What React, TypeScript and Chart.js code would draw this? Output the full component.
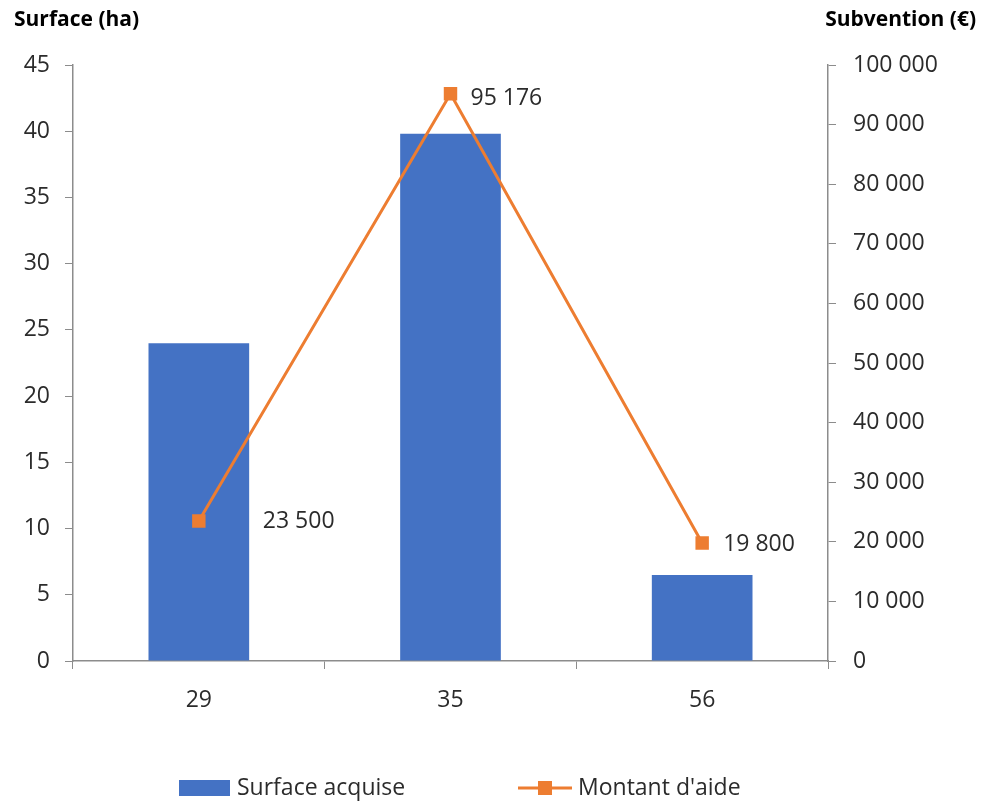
import React, { useEffect, useRef } from "react";
import { Chart, registerables } from "chart.js";

Chart.register(...registerables);

const categories = ["29", "35", "56"];
const surfaceValues = [24, 39.8, 6.5];
const aideValues = [23500, 95176, 19800];
const surfaceLabel = "Surface acquise";
const aideLabel = "Montant d'aide";
const leftTitle = "Surface (ha)";
const rightTitle = "Subvention (€)";

const BAR_COLOR = "#4472C4";
const LINE_COLOR = "#ED7D31";
const AXIS_COLOR = "#8c8c8c";
const TEXT_COLOR = "#2b2b2b";
const FONT_FAMILY = "'Open Sans', 'Liberation Sans', sans-serif";

const fmt = (v: number) =>
  String(Math.round(v)).replace(/\B(?=(\d{3})+(?!\d))/g, " ");

const overlayPlugin = {
  id: "overlay",
  afterDatasetsDraw(chart: any) {
    const ctx = chart.ctx;
    ctx.save();
    // data labels for line
    const meta = chart.getDatasetMeta(1);
    const offX = [64, 20, 21];
    const offY = [1, 5, 1];
    ctx.font = `23px ${FONT_FAMILY}`;
    ctx.fillStyle = TEXT_COLOR;
    ctx.textAlign = "left";
    ctx.textBaseline = "middle";
    meta.data.forEach((pt: any, i: number) => {
      ctx.fillText(fmt(aideValues[i]), pt.x + offX[i], pt.y + offY[i]);
    });
    // axis titles
    ctx.font = `bold 21px ${FONT_FAMILY}`;
    ctx.fillStyle = "#000";
    ctx.textAlign = "left";
    ctx.fillText(leftTitle, 14, 20);
    ctx.textAlign = "right";
    ctx.fillText(rightTitle, 976, 20);
    // legend
    const ly = 788;
    ctx.fillStyle = BAR_COLOR;
    ctx.fillRect(179, ly - 8, 51, 16);
    ctx.font = `23px ${FONT_FAMILY}`;
    ctx.fillStyle = TEXT_COLOR;
    ctx.textAlign = "left";
    ctx.fillText(surfaceLabel, 237, ly);
    ctx.strokeStyle = LINE_COLOR;
    ctx.lineWidth = 3;
    ctx.beginPath();
    ctx.moveTo(518, ly);
    ctx.lineTo(572, ly);
    ctx.stroke();
    ctx.fillStyle = LINE_COLOR;
    ctx.fillRect(538, ly - 7, 14, 14);
    ctx.fillStyle = TEXT_COLOR;
    ctx.fillText(aideLabel, 578, ly);
    ctx.restore();
  },
};

export default function App() {
  const ref = useRef<HTMLCanvasElement | null>(null);
  useEffect(() => {
    if (!ref.current) return;
    const chart = new Chart(ref.current, {
      type: "bar",
      data: {
        labels: categories,
        datasets: [
          {
            type: "bar",
            label: surfaceLabel,
            data: surfaceValues,
            backgroundColor: BAR_COLOR,
            barPercentage: 0.4,
            categoryPercentage: 1,
            yAxisID: "y",
            order: 2,
          },
          {
            type: "line",
            label: aideLabel,
            data: aideValues,
            borderColor: LINE_COLOR,
            backgroundColor: LINE_COLOR,
            borderWidth: 3,
            pointStyle: "rect",
            pointRadius: 9.5,
            pointBorderWidth: 0,
            pointBackgroundColor: LINE_COLOR,
            yAxisID: "y1",
            order: 1,
          },
        ] as any,
      },
      options: {
        animation: false,
        responsive: true,
        maintainAspectRatio: false,
        layout: { padding: { top: 65, left: 0, right: 0, bottom: 0 } },
        plugins: {
          legend: { display: false },
          tooltip: { enabled: false },
        },
        scales: {
          x: {
            offset: true,
            grid: {
              offset: true,
              drawOnChartArea: false,
              drawTicks: true,
              tickLength: 8,
              color: AXIS_COLOR,
            },
            border: { color: AXIS_COLOR, width: 1.5 },
            ticks: {
              color: TEXT_COLOR,
              font: { family: FONT_FAMILY, size: 23 },
              padding: 18,
            },
            afterFit: (s: any) => {
              s.height = 140;
            },
          },
          y: {
            position: "left",
            min: 0,
            max: 45,
            ticks: {
              stepSize: 5,
              color: TEXT_COLOR,
              font: { family: FONT_FAMILY, size: 23 },
              padding: 15,
            },
            grid: {
              drawOnChartArea: false,
              drawTicks: true,
              tickLength: 8,
              color: AXIS_COLOR,
            },
            border: { color: AXIS_COLOR, width: 1.5 },
            afterFit: (s: any) => {
              s.width = 73;
            },
          },
          y1: {
            position: "right",
            min: 0,
            max: 100000,
            ticks: {
              stepSize: 10000,
              color: TEXT_COLOR,
              font: { family: FONT_FAMILY, size: 23 },
              padding: 17,
              callback: (v: any) => fmt(Number(v)),
            },
            grid: {
              drawOnChartArea: false,
              drawTicks: true,
              tickLength: 8,
              color: AXIS_COLOR,
            },
            border: { color: AXIS_COLOR, width: 1.5 },
            afterFit: (s: any) => {
              s.width = 154;
            },
          },
        },
      } as any,
      plugins: [overlayPlugin],
    });
    return () => chart.destroy();
  }, []);
  return (
    <div
      style={{
        position: "fixed",
        left: 0,
        top: 0,
        width: 982,
        height: 801,
        background: "#fff",
      }}
    >
      <canvas ref={ref} />
    </div>
  );
}
